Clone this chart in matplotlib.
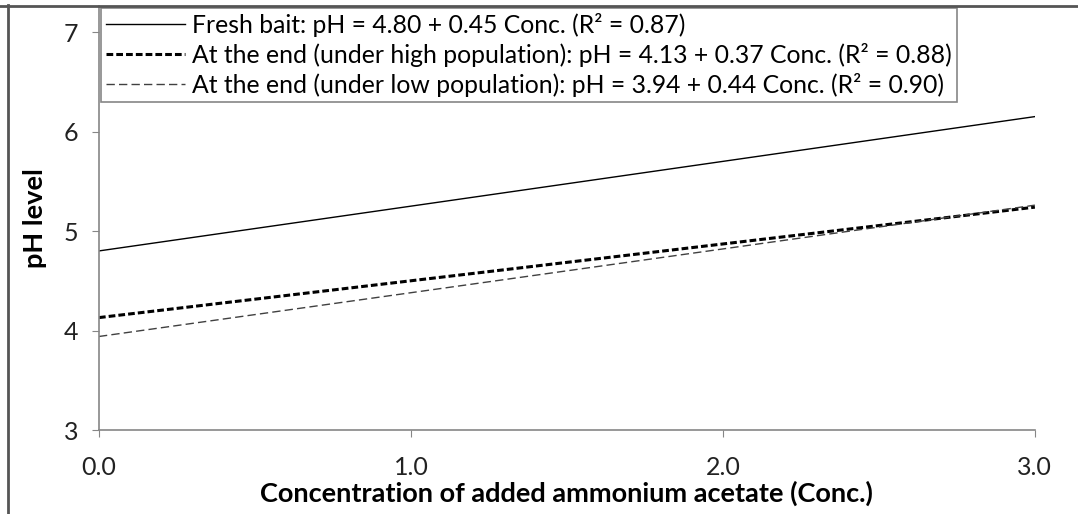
import matplotlib
matplotlib.use("Agg")
import matplotlib.pyplot as plt
from matplotlib.lines import Line2D

# fitted lines, read at the two ends of the axis
conc = [0.0, 3.0]
fresh = [4.80, 6.15]
high_pop = [4.13, 5.24]
low_pop = [3.94, 5.26]

labels = [
    "Fresh bait: pH = 4.80 + 0.45 Conc. (R² = 0.87)",
    "At the end (under high population): pH = 4.13 + 0.37 Conc. (R² = 0.88)",
    "At the end (under low population): pH = 3.94 + 0.44 Conc. (R² = 0.90)",
]
xticks = [0.0, 1.0, 2.0, 3.0]
yticks = [3, 4, 5, 6, 7]

plt.rcParams["font.family"] = ["Lato", "DejaVu Sans"]

fig = plt.figure(figsize=(10.78, 5.14), dpi=100)
ax = fig.add_axes([0.0918, 0.1634, 0.8682, 0.8246])

ax.plot(conc, fresh, color="black", lw=1.0, label=labels[0])
ax.plot(conc, high_pop, color="black", lw=2.2, dashes=(2.2, 1.0), label=labels[1])
ax.plot(conc, low_pop, color="#404040", lw=1.0, dashes=(6, 3), label=labels[2])

ax.set_xlim(0, 3)
ax.set_ylim(3, 7.26)
ax.set_xticks(xticks)
ax.set_xticklabels(["%.1f" % t for t in xticks])
ax.set_yticks(yticks)
ax.tick_params(axis="both", direction="out", length=5, color="#868686",
               labelsize=18, labelcolor="#222222", pad=10)
ax.tick_params(axis="x", pad=14)
for s in ["top", "right"]:
    ax.spines[s].set_visible(False)
for s in ["left", "bottom"]:
    ax.spines[s].set_color("#868686")
    ax.spines[s].set_linewidth(1.2)

ax.set_xlabel("Concentration of added ammonium acetate (Conc.)", fontsize=19.5,
              fontweight="bold", labelpad=1)
ax.set_ylabel("pH level", fontsize=19.5, fontweight="bold", labelpad=12)

leg = ax.legend(loc="upper left", bbox_to_anchor=(0.0935, 0.985),
                bbox_transform=fig.transFigure, fontsize=17.8, handlelength=3.2,
                handletextpad=0.3, borderpad=0.2, labelspacing=0.25,
                fancybox=False, framealpha=1, edgecolor="#868686",
                borderaxespad=0)
leg.get_frame().set_linewidth(1.2)

# outer border of the chart area (top and left edges)
fig.add_artist(Line2D([0, 1], [0.9885, 0.9885], transform=fig.transFigure,
                      color="#555555", lw=2))
fig.add_artist(Line2D([0.0075, 0.0075], [0, 0.99], transform=fig.transFigure,
                      color="#555555", lw=2))

fig.savefig("out.png", dpi=100)
